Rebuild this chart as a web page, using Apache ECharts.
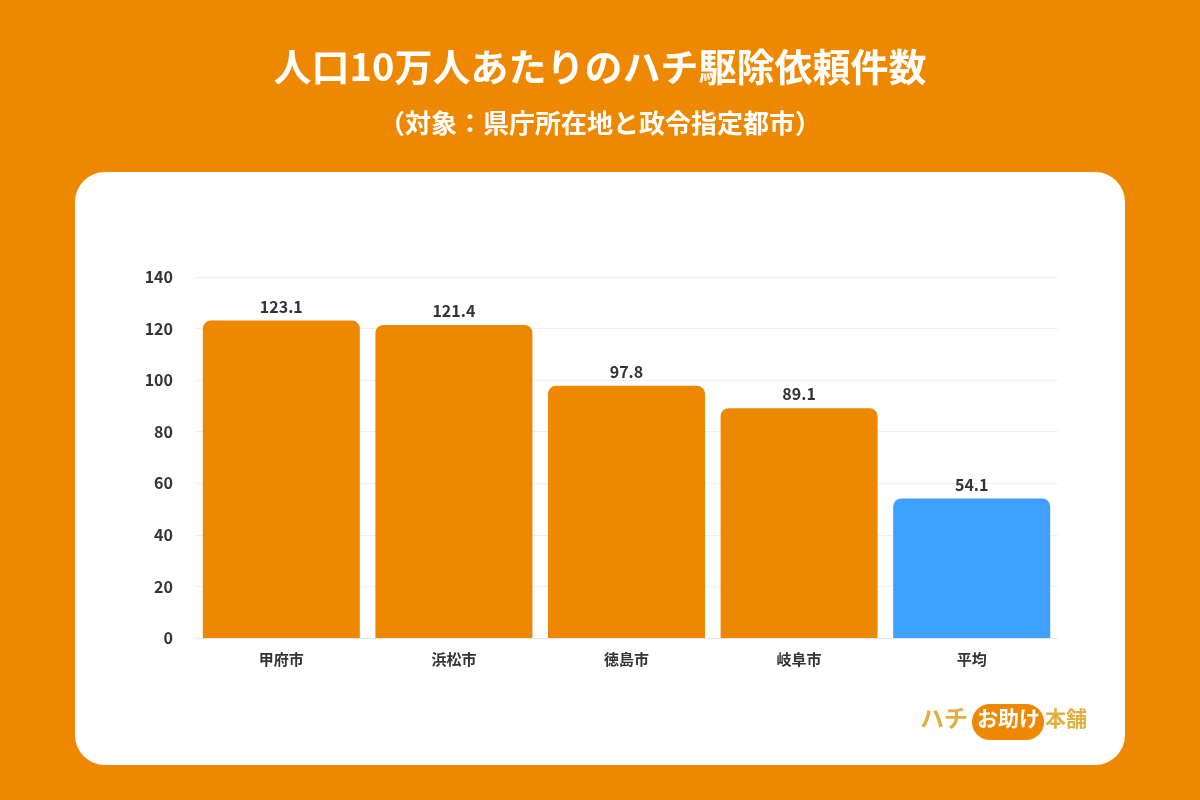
<!DOCTYPE html>
<html><head><meta charset="utf-8">
<script src="https://cdn.jsdelivr.net/npm/echarts@6/dist/echarts.min.js"></script>
<style>html,body{margin:0;padding:0;background:#ee8800}#c{width:1200px;height:800px}</style>
</head><body><div id="c"></div>
<script>
const cities = ['甲府市', '浜松市', '徳島市', '岐阜市', '平均'];
const counts = [123.1, 121.4, 97.8, 89.1, 54.1];
const barColors = ['#ee8800', '#ee8800', '#ee8800', '#ee8800', '#3ea0ff'];

const font = '"Noto Sans CJK JP", "Noto Sans", sans-serif';
const chart = echarts.init(document.getElementById('c'));
chart.setOption({
  backgroundColor: '#ee8800',
  textStyle: { fontFamily: font },
  graphic: [
    { type: 'rect', shape: { x: 75, y: 172, width: 1050, height: 593, r: 30 }, style: { fill: '#fff' }, z: -10 },
    { type: 'text', left: 'center', top: 48, style: { text: '人口10万人あたりのハチ駆除依頼件数', fill: '#fff', font: 'bold 38px ' + font } },
    { type: 'text', left: 'center', top: 110, style: { text: '（対象：県庁所在地と政令指定都市）', fill: '#fff', font: 'bold 26px ' + font } },
    { type: 'text', left: 920, top: 706, style: { text: 'ハチ', fill: '#e0b040', font: 'bold 24px ' + font } },
    { type: 'rect', shape: { x: 972, y: 704, width: 72, height: 36, r: 18 }, style: { fill: '#ee8800' } },
    { type: 'text', left: 977, top: 708, style: { text: 'お助け', fill: '#fff', font: 'bold 21px ' + font } },
    { type: 'text', left: 1045, top: 708, style: { text: '本舗', fill: '#e0b040', font: 'bold 21px ' + font } }
  ],
  grid: { left: 195, right: 142, top: 277, bottom: 162 },
  xAxis: {
    type: 'category', data: cities,
    axisLine: { lineStyle: { color: '#e8e8e8' } }, axisTick: { show: false },
    axisLabel: { color: '#333', fontSize: 15, fontWeight: 'bold', margin: 14 }
  },
  yAxis: {
    type: 'value', min: 0, max: 140, interval: 20,
    axisLabel: { color: '#333', fontSize: 16, fontWeight: 'bold', margin: 22 },
    splitLine: { lineStyle: { color: '#f0f0f0' } }
  },
  series: [{
    type: 'bar', barWidth: 157,
    data: counts.map((v, i) => ({ value: v, itemStyle: { color: barColors[i] } })),
    itemStyle: { borderRadius: [8, 8, 0, 0] },
    label: { show: true, position: 'top', color: '#333', fontSize: 16, fontWeight: 'bold', distance: 6 }
  }]
});
</script></body></html>
